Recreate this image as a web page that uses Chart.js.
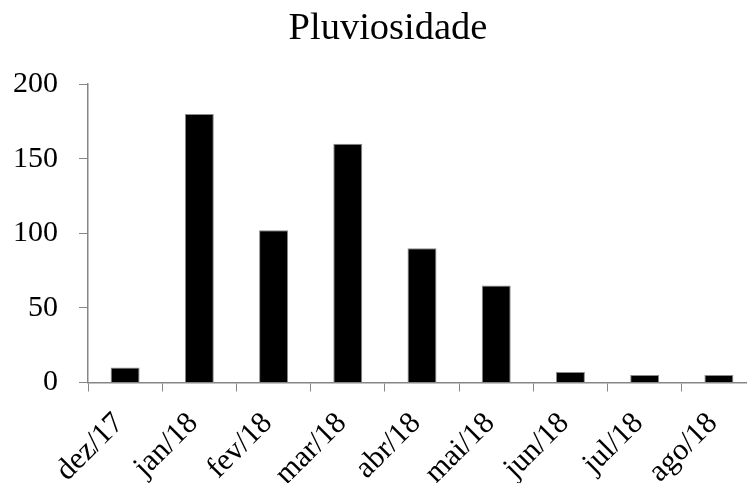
<!DOCTYPE html>
<html>
<head>
<meta charset="utf-8">
<script src="https://cdn.jsdelivr.net/npm/chart.js@4"></script>
<style>
  html, body { margin: 0; padding: 0; background: #fff; }
  .wrap { width: 747px; height: 483px; overflow: hidden; position: relative; }
  canvas { display: block; }
</style>
</head>
<body>
<div class="wrap">
  <canvas id="myChart" width="776" height="530"></canvas>
</div>
<script>
const meses = ['dez/17', 'jan/18', 'fev/18', 'mar/18', 'abr/18', 'mai/18', 'jun/18', 'jul/18', 'ago/18'];
const chuva = [10, 180, 102, 160, 90, 65, 7, 5, 5];
const yTicks = [0, 50, 100, 150, 200];

const serif = 'Liberation Serif, Times New Roman, serif';
const eixo = '#868686';

let ctx = document.getElementById('myChart');

let myChart = new Chart(ctx, {
  type: 'bar',
  data: {
    labels: meses,
    datasets: [{
      data: chuva,
      backgroundColor: '#000000',
      borderColor: '#8a8a8a',
      borderWidth: 1,
      categoryPercentage: 1,
      barPercentage: 0.39
    }]
  },
  options: {
    responsive: false,
    animation: false,
    layout: { padding: 0 },
    plugins: {
      legend: { display: false },
      tooltip: { enabled: false },
      title: {
        display: true,
        text: 'Pluviosidade',
        color: '#000',
        font: { family: serif, size: 38.5, weight: 'normal' },
        padding: { top: 6, bottom: 32 }
      }
    },
    scales: {
      x: {
        offset: true,
        grid: { offset: true, drawOnChartArea: false, drawTicks: true, tickLength: 9, color: eixo },
        border: { display: true, color: eixo, width: 1.5 },
        ticks: {
          color: '#000',
          font: { family: serif, size: 30.5 },
          minRotation: 45,
          maxRotation: 45,
          padding: 14,
          labelOffset: -6,
          autoSkip: false
        },
        afterFit: function (scale) { scale.height = 530 - 382.5; }
      },
      y: {
        min: 0,
        max: 200,
        grid: { drawOnChartArea: false, drawTicks: true, tickLength: 9, color: eixo },
        border: { display: true, color: eixo, width: 1.5 },
        afterBuildTicks: function (scale) { scale.ticks = yTicks.map(v => ({ value: v })); },
        ticks: {
          color: '#000',
          font: { family: serif, size: 30 },
          padding: 21
        },
        afterFit: function (scale) { scale.width = 88; }
      },
      // espaco vazio a direita, so para a area do grafico acabar em 756
      vazio: {
        type: 'linear',
        position: 'right',
        grid: { display: false },
        border: { display: false },
        ticks: { display: false },
        afterFit: function (scale) { scale.width = 20; }
      }
    }
  }
});
</script>
</body>
</html>
